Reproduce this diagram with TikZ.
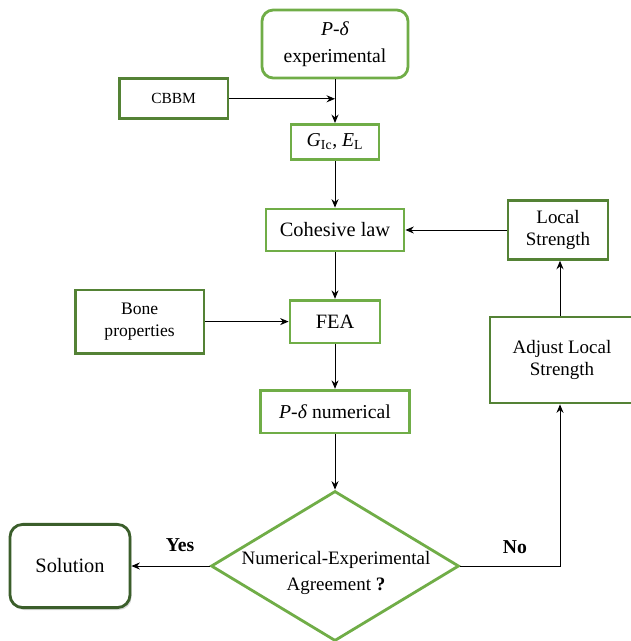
\documentclass[tikz,border=0pt]{standalone}
\usepackage{fontspec}
\setmainfont{Liberation Serif}
\usetikzlibrary{shapes.geometric,arrows.meta,shadows}

\definecolor{lightgreen}{HTML}{70AD47}
\definecolor{darkgreen}{HTML}{548235}
\definecolor{deepgreen}{HTML}{3B5E2B}

\begin{document}
\begin{tikzpicture}[
        lightbox/.style={draw=lightgreen, line width=2pt, fill=white, align=center, inner sep=0pt},
        darkbox/.style={draw=darkgreen, line width=2pt, fill=white, align=center, inner sep=0pt},
        decision/.style={diamond, draw=lightgreen, line width=2pt, fill=white, inner sep=0pt, aspect=1.65},
        flow/.style={-{Stealth[length=6pt,width=5pt]}, line width=0.7pt}
    ]
        \useasboundingbox (0,0) rectangle (15.75,-16.025);

        % the main column
        \node[lightbox, rounded corners=8pt, minimum width=3.65cm, minimum height=1.7cm,
              font=\fontsize{14}{19}\selectfont] (exp) at (8.375,-1.1) {\textit{P}-\textit{δ}\\experimental};
        \node[lightbox, minimum width=2.2cm, minimum height=0.88cm,
              font=\fontsize{14}{17}\selectfont] (gic) at (8.375,-3.55) {\textit{G}\textsubscript{Ic}, \textit{E}\textsubscript{L}};
        \node[lightbox, minimum width=3.45cm, minimum height=1.05cm,
              font=\fontsize{14.5}{17}\selectfont] (coh) at (8.375,-5.75) {Cohesive law};
        \node[lightbox, minimum width=2.25cm, minimum height=1.07cm,
              font=\fontsize{14.5}{17}\selectfont] (fea) at (8.375,-8.04) {FEA};
        \node[lightbox, minimum width=3.72cm, minimum height=1.07cm,
              font=\fontsize{14}{17}\selectfont] (num) at (8.375,-10.29) {\textit{P}-\textit{δ} numerical};
        \node[decision, minimum width=6.2cm, minimum height=3.75cm] (agree) at (8.375,-14.15) {};
        \node[align=center, font=\fontsize{13.5}{18.5}\selectfont] (agreetext) at (8.4,-14.33)
              {Numerical-Experimental\\Agreement \textbf{?}};

        % the side inputs
        \node[darkbox, minimum width=2.72cm, minimum height=1.0cm,
              font=\fontsize{11}{14}\selectfont] (cbbm) at (4.34,-2.47) {CBBM};
        \node[darkbox, minimum width=3.22cm, minimum height=1.58cm,
              font=\fontsize{12.5}{15.6}\selectfont] (bone) at (3.49,-8.04) {Bone\\properties};

        % the loop on the right
        \node[darkbox, minimum width=2.5cm, minimum height=1.47cm,
              font=\fontsize{13.5}{16}\selectfont] (local) at (13.95,-5.75) {Local\\Strength};
        \node[darkbox, minimum width=3.6cm, minimum height=2.15cm,
              font=\fontsize{13.5}{15}\selectfont] (adjust) at (14.05,-9.0) {Adjust Local\\Strength};
        \coordinate (loop) at (14.0,-14.15);

        % the result
        \node[draw=deepgreen, line width=2pt, fill=white, rounded corners=9pt, minimum width=3.0cm,
              minimum height=2.08cm, drop shadow={opacity=0.3, shadow xshift=0.04, shadow yshift=-0.06},
              font=\fontsize{14.5}{17}\selectfont] (solution) at (1.75,-14.15) {Solution};

        % the answers
        \node[font=\bfseries\fontsize{14}{17}\selectfont] (yes) at (4.5,-13.62) {Yes};
        \node[font=\bfseries\fontsize{14}{17}\selectfont] (no) at (12.875,-13.68) {No};

        % draw the arrows
        \coordinate (meet) at (exp.south |- cbbm.east);
        \draw[flow] (exp) -- (gic);
        \draw[flow] (cbbm) -- (meet);
        \draw[flow] (gic) -- (coh);
        \draw[flow] (coh) -- (fea);
        \draw[flow] (bone) -- (fea);
        \draw[flow] (fea) -- (num);
        \draw[flow] (num) -- (agree);
        \draw[flow] (agree.west) -- (solution);
        \draw[flow] (agree.east) -- (loop) -- (adjust.south -| loop);
        \draw[flow] (adjust.north -| loop) -- (local.south -| loop);
        \draw[flow] (local) -- (coh);

    \end{tikzpicture}
\end{document}
